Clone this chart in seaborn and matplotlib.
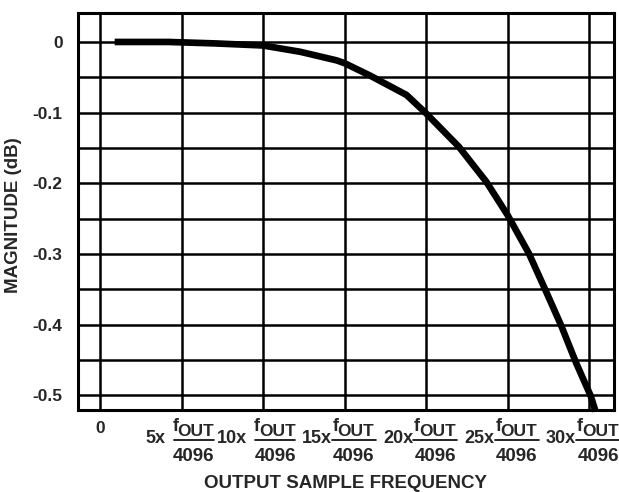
import numpy as np
import pandas as pd
import seaborn as sns
import matplotlib.pyplot as plt
import matplotlib.transforms as mtransforms

# curve (x in units of fOUT/4096, y in dB)
freq = [0.9, 4.2, 7.0, 10.0, 12.3, 14.5, 15.0, 16.6, 18.8, 20.0, 22.0,
        23.7, 25.0, 26.3, 27.3, 28.3, 29.2, 30.1, 30.4]
mag_db = [0.0, 0.0, -0.002, -0.005, -0.014, -0.026, -0.030, -0.048, -0.075,
          -0.101, -0.148, -0.198, -0.245, -0.299, -0.350, -0.402, -0.454,
          -0.501, -0.523]

y_major = [0, -0.1, -0.2, -0.3, -0.4, -0.5]
y_labels = ['0', '-0.1', '-0.2', '-0.3', '-0.4', '-0.5']
y_minor = [-0.05, -0.15, -0.25, -0.35, -0.45]
x_mult = [5, 10, 15, 20, 25, 30]

df = pd.DataFrame({'freq': freq, 'mag': mag_db})

sns.set_theme(style='white')
plt.rcParams['font.family'] = ['Liberation Sans', 'DejaVu Sans']
plt.rcParams['font.weight'] = 'bold'

fig = plt.figure(figsize=(6.19, 4.92), dpi=100)
ax = fig.add_axes([78 / 619, 82 / 492, 536 / 619, 397 / 492])

sns.lineplot(data=df, x='freq', y='mag', ax=ax, color='black', lw=4.8,
             solid_capstyle='butt', clip_on=False, zorder=5)

ax.set_xlim(-1.35, 31.53)
ax.set_ylim(-0.521, 0.041)

ax.set_xticks([0] + x_mult)
ax.set_xticklabels(['0'] + [''] * len(x_mult))
ax.set_yticks(y_major)
ax.set_yticklabels(y_labels)
ax.set_yticks(y_minor, minor=True)
ax.tick_params(axis='both', which='both', length=0)
ax.tick_params(axis='y', pad=11, labelsize=12.5)
ax.tick_params(axis='x', pad=8, labelsize=12.5)
for lab in ax.get_xticklabels() + ax.get_yticklabels():
    lab.set_fontweight('bold')

ax.grid(True, which='both', color='black', lw=1.8)
ax.set_axisbelow(True)
for sp in ax.spines.values():
    sp.set_color('black')
    sp.set_linewidth(2.2)

# fraction style tick labels: Nx fOUT/4096 (offsets in pixels from the tick)
trans = mtransforms.blended_transform_factory(ax.transData, ax.transAxes)
px_per_unit = 16.3
bar_tr = trans + mtransforms.ScaledTranslation(0, -30 / 100, fig.dpi_scale_trans)
for k in x_mult:
    if k < 15:
        bar0, bar1, nx_end = -8, 32, -16
    else:
        bar0, bar1, nx_end = -13, 31, -13
    mid = (bar0 + bar1) / 2

    def put(txt, dx, dy, size, ha='left'):
        ax.annotate(txt, xy=(k, 0), xycoords=trans, xytext=(dx, dy),
                    textcoords='offset pixels', ha=ha, va='baseline',
                    fontsize=size, fontweight='bold', annotation_clip=False)

    put(f'{k}x', nx_end, -33, 13, ha='right')
    put('f', mid - 21, -21, 13)
    put('OUT', mid - 16, -26, 12.5)
    put('4096', mid, -51, 13.5, ha='center')
    ax.plot([k + bar0 / px_per_unit, k + bar1 / px_per_unit], [0, 0],
            transform=bar_tr, color='black', lw=1.2, clip_on=False)

ax.set_xlabel('OUTPUT SAMPLE FREQUENCY', fontsize=13.5, fontweight='bold',
              va='center')
ax.xaxis.set_label_coords(0.5, -0.186)
ax.set_ylabel('MAGNITUDE (dB)', fontsize=13.5, fontweight='bold', va='center')
ax.yaxis.set_label_coords(-0.121, 0.49)

fig.savefig('out.png', dpi=100, facecolor='white')
